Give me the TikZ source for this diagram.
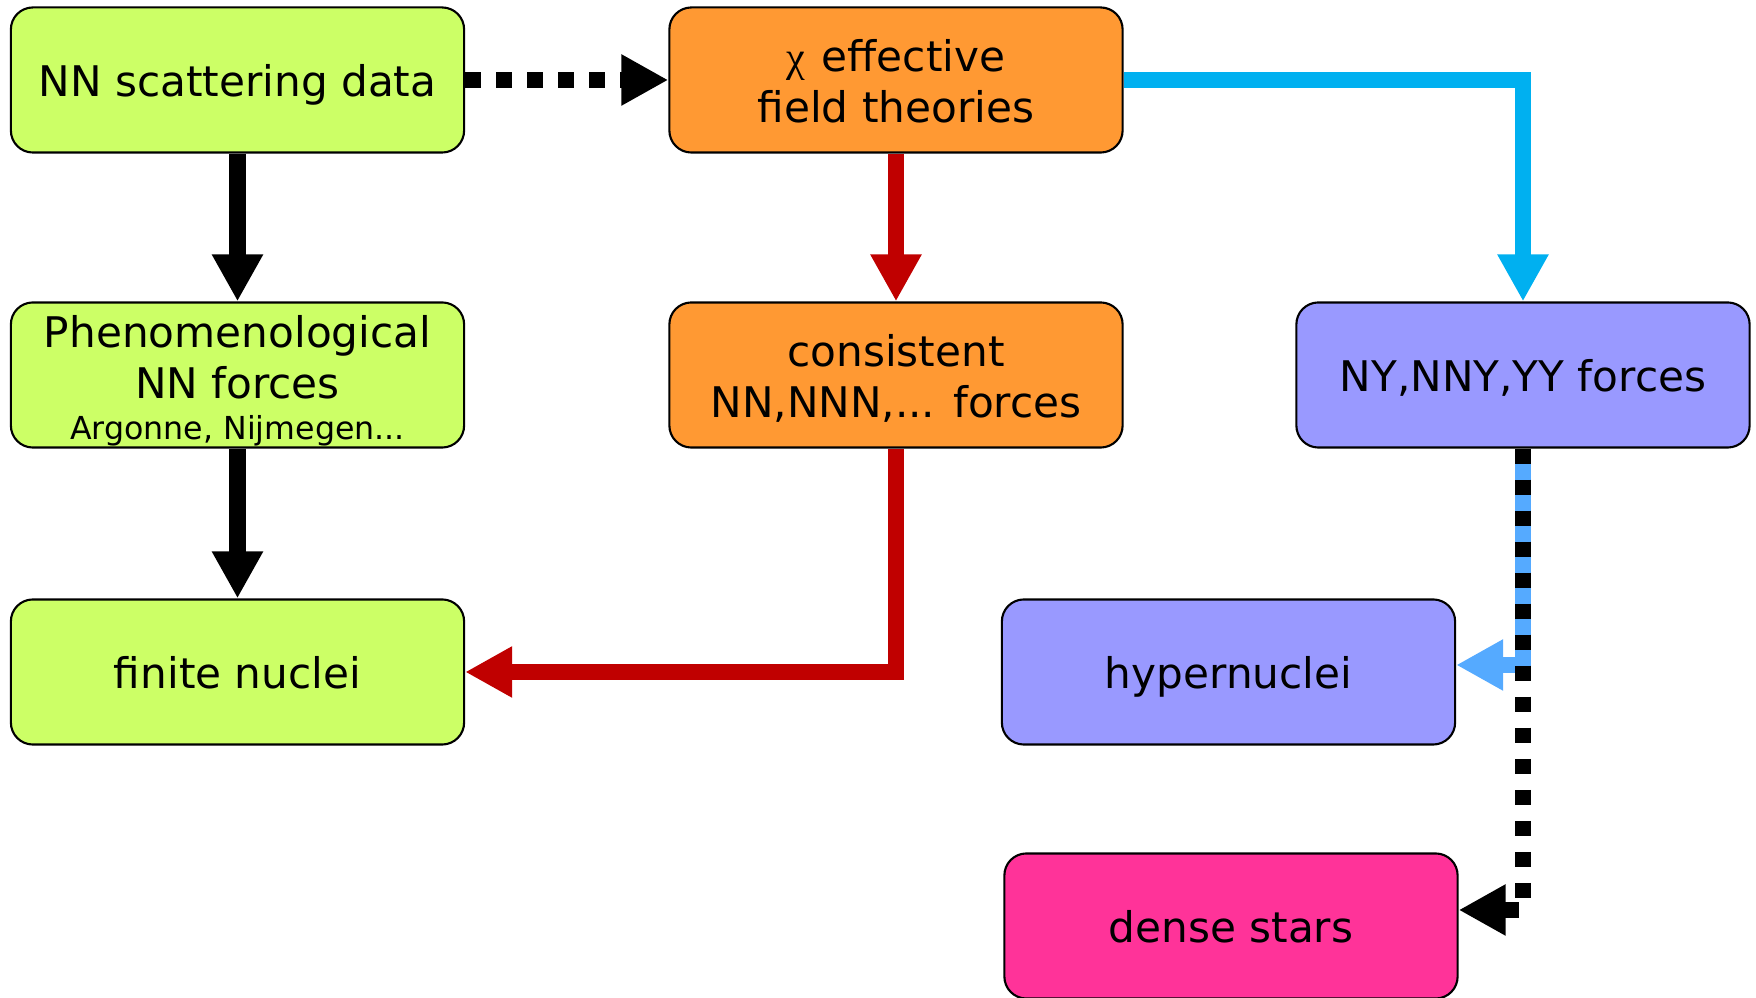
\documentclass[tikz,border=0pt]{standalone}
\usepackage{fontspec}
\setmainfont{DejaVu Sans}
\newfontfamily\symfont{Liberation Serif}
\usetikzlibrary{arrows.meta}
\definecolor{nlime}{HTML}{CCFF66}
\definecolor{norange}{HTML}{FF9933}
\definecolor{nviolet}{HTML}{9999FF}
\definecolor{npink}{HTML}{FF3399}
\definecolor{nred}{HTML}{C00000}
\definecolor{ncyan}{HTML}{00B0F0}
\definecolor{nsky}{HTML}{55AAFF}
\newcommand{\topstrut}{\rule{0pt}{12.4pt}}
\newcommand{\botstrut}{\rule[-3pt]{0pt}{3pt}}
\newcommand{\boxstrut}{\topstrut\botstrut}
\tikzset{
  box/.style={draw=black,line width=0.6pt,rounded corners=0.22cm,minimum width=4.53cm,minimum height=1.45cm,align=center,inner sep=0pt,font=\fontsize{12}{14.5}\selectfont},
  greenb/.style={box,fill=nlime},
  orangeb/.style={box,fill=norange},
  violetb/.style={box,fill=nviolet},
  pinkb/.style={box,fill=npink},
  arr/.style={-{Triangle[length=0.47cm,width=0.48cm]},line width=0.16cm},
  blkarr/.style={arr,draw=black},
  redarr/.style={arr,draw=nred},
  cyanarr/.style={arr,draw=ncyan},
  skyarr/.style={arr,draw=nsky},
  dotarr/.style={arr,draw=black,dash pattern=on 0.155cm off 0.155cm},
}

\begin{document}
\begin{tikzpicture}[x=0.01cm,y=-0.01cm]
  \useasboundingbox (0,0) rectangle (1756,998);
  % boxes
  \node[greenb] (scat) at (237.5,80) {\boxstrut NN scattering data};
  \node[orangeb] (eft) at (896,80) {\topstrut{\symfont χ}\hspace{0.03cm} effective\ \\field theories\botstrut};
  \node[greenb] (phen) at (237.5,375) {\topstrut Phenomenological\\NN forces\\[-2.8pt]{\fontsize{9}{10.8}\selectfont Argonne, Nijmegen...}};
  \node[orangeb] (cons) at (896,375) {\topstrut consistent\ \\NN,NNN,... forces\botstrut};
  \node[violetb] (hyf) at (1523,375) {\boxstrut NY,NNY,YY forces};
  \node[greenb] (fin) at (237.5,672) {\boxstrut finite nuclei};
  \node[violetb] (hyp) at (1228.5,672) {\boxstrut hypernuclei};
  \node[pinkb] (dense) at (1231,926) {\boxstrut dense stars};
  % connectors
  \draw[dotarr] (scat.east) -- (eft.west);
  \draw[blkarr] (scat) -- (phen);
  \draw[blkarr] (phen) -- (fin);
  \draw[redarr] (eft) -- (cons);
  \draw[redarr] (cons.south) |- (fin.east);
  \draw[cyanarr] (eft.east) -| (hyf.north);
  \draw[skyarr] (hyf.south) |- ([yshift=0.07cm]hyp.east);
  \draw[dotarr] (hyf.south) |- ([yshift=0.16cm]dense.east);
\end{tikzpicture}
\end{document}
